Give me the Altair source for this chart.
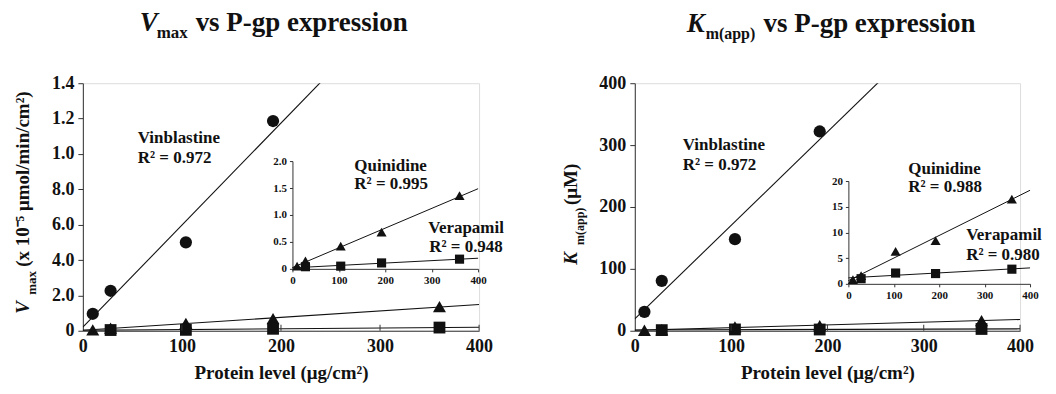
import altair as alt
import pandas as pd

# ---------------- data ----------------
protein = [10, 28, 104, 192, 360]          # µg/cm2
protein_vin = [10, 28, 104, 192]
protein_ver = [28, 104, 192, 360]

vmax_vinblastine = [0.96, 2.26, 5.0, 11.86]
vmax_quinidine = [0.05, 0.15, 0.42, 0.68, 1.36]
vmax_verapamil = [0.04, 0.05, 0.11, 0.18]

km_vinblastine = [30.6, 80.6, 148.0, 322.0]
km_quinidine = [0.8, 1.6, 6.3, 8.4, 16.5]
km_verapamil = [1.0, 2.1, 2.0, 2.85]

x_ticks = [0, 100, 200, 300, 400]
x_inner_ticks = [100, 200, 300, 400]
vmax_ticks = [0, 2, 4, 6, 8, 10, 12, 14]
vmax_inset_ticks = [0, 0.5, 1.0, 1.5, 2.0]
km_ticks = [0, 100, 200, 300, 400]
km_inset_ticks = [0, 5, 10, 15, 20]

compounds = ["Vinblastine", "Quinidine", "Verapamil"]
r2_vmax = ["R² = 0.972", "R² = 0.995", "R² = 0.948"]
r2_km = ["R² = 0.972", "R² = 0.988", "R² = 0.980"]

SERIF = "Liberation Serif, Times New Roman, serif"
INK = "#111111"
AX = "#333333"
H = 248


def make_df(vin, qui, ver):
    rows = []
    for x, y in zip(protein_vin, vin):
        rows.append({"protein": x, "value": y, "compound": "Vinblastine"})
    for x, y in zip(protein, qui):
        rows.append({"protein": x, "value": y, "compound": "Quinidine"})
    for x, y in zip(protein_ver, ver):
        rows.append({"protein": x, "value": y, "compound": "Verapamil"})
    return pd.DataFrame(rows)


def txt(s, x, y, size=17, style="normal", angle=None):
    kw = dict(align="left", baseline="alphabetic", font=SERIF, fontSize=size,
              fontWeight="bold", fontStyle=style, color=INK)
    if angle is not None:
        kw["angle"] = angle
    return alt.Chart(pd.DataFrame({"t": [s]})).mark_text(**kw).encode(
        x=alt.value(x), y=alt.value(y), text="t:N")


SHAPES = {"Vinblastine": ("circle", 150), "Quinidine": ("triangle-up", 170),
          "Verapamil": ("square", 140)}


def panel(df, W, ymax, yticks, ylab_expr, iymax, iticks, ilab_expr,
          ixr, iyr, texts):
    # ---- main plot ----
    xm = alt.X("protein:Q", scale=alt.Scale(domain=[0, 400], nice=False),
               axis=alt.Axis(values=x_ticks, title="Protein level (μg/cm²)",
                             titleFont=SERIF, titleFontSize=19, titleFontWeight="bold",
                             titleColor=INK, labelFont=SERIF, labelFontSize=18,
                             labelFontWeight="bold", labelColor=INK, ticks=False,
                             labelPadding=7, titlePadding=8, domainColor=AX,
                             grid=False, labelFlush=False))
    ym = alt.Y("value:Q", scale=alt.Scale(domain=[0, ymax], nice=False),
               axis=alt.Axis(values=yticks, labelExpr=ylab_expr, title=None,
                             labelFont=SERIF, labelFontSize=18, labelFontWeight="bold",
                             labelColor=INK, tickSize=5, tickColor=AX, domainColor=AX,
                             labelPadding=4, grid=False))
    base = alt.Chart(df)
    main_layers = []
    for c in compounds:
        main_layers.append(
            base.transform_filter(alt.datum.compound == c)
            .transform_regression("protein", "value", extent=[0, 400])
            .mark_line(color=INK, strokeWidth=1.1, clip=True)
            .encode(x=xm, y=ym))
    for c in ["Vinblastine", "Quinidine", "Verapamil"]:
        shp, sz = SHAPES[c]
        main_layers.append(
            base.transform_filter(alt.datum.compound == c)
            .mark_point(shape=shp, size=sz, filled=True, color=INK, opacity=1)
            .encode(x=xm, y=ym))
    ticks_df = pd.DataFrame({"protein": x_inner_ticks})
    main_layers.append(
        alt.Chart(ticks_df).mark_rule(color=AX, strokeWidth=1)
        .encode(x=xm, y=alt.value(H - 6), y2=alt.value(H)))
    main = alt.layer(*main_layers)

    # ---- inset ----
    xi = alt.X("protein:Q", scale=alt.Scale(domain=[0, 400], range=ixr, nice=False),
               axis=alt.Axis(values=x_ticks, orient="bottom", offset=-(H - iyr[0]),
                             title=None, labelFont=SERIF, labelFontSize=11,
                             labelFontWeight="bold", labelColor=INK, tickSize=3,
                             tickColor=AX, domainColor=AX, labelPadding=3,
                             grid=False, labelFlush=False))
    yi = alt.Y("value:Q", scale=alt.Scale(domain=[0, iymax], range=iyr, nice=False),
               axis=alt.Axis(values=iticks, labelExpr=ilab_expr, orient="left",
                             offset=-ixr[0], title=None, labelFont=SERIF,
                             labelFontSize=11, labelFontWeight="bold", labelColor=INK,
                             tickSize=3, tickColor=AX, domainColor=AX, labelPadding=3,
                             grid=False))
    ins_layers = []
    for c in ["Quinidine", "Verapamil"]:
        ins_layers.append(
            base.transform_filter(alt.datum.compound == c)
            .transform_regression("protein", "value", extent=[0, 400])
            .mark_line(color=INK, strokeWidth=1.0)
            .encode(x=xi, y=yi))
    for c in ["Quinidine", "Verapamil"]:
        shp, sz = SHAPES[c]
        ins_layers.append(
            base.transform_filter(alt.datum.compound == c)
            .mark_point(shape=shp, size=sz * 0.6, filled=True, color=INK, opacity=1)
            .encode(x=xi, y=yi))
    inset = alt.layer(*ins_layers)

    return alt.layer(main, inset, *texts).resolve_scale(
        x="independent", y="independent").properties(width=W, height=H)


# ---------------- left panel: Vmax ----------------
vmax_df = make_df(vmax_vinblastine, vmax_quinidine, vmax_verapamil)
left_texts = [
    txt("V", 57, -52, size=27, style="italic"),
    txt("max", 74, -45, size=17),
    txt("vs P-gp expression", 113, -52, size=27),
    txt("V", -54, 231, size=19, style="italic", angle=270),
    txt("max", -47, 212, size=13, angle=270),
    txt("(x 10⁻⁵ μmol/min/cm²)", -54, 184, size=19, angle=270),
    txt(compounds[0], 55, 60), txt(r2_vmax[0], 55, 80),
    txt(compounds[1], 272, 88), txt(r2_vmax[1], 272, 106),
    txt(compounds[2], 346, 150), txt(r2_vmax[2], 347, 169),
]
left = panel(
    vmax_df, 397, 14, vmax_ticks,
    "datum.value == 0 ? '0' : (datum.value >= 10 ? format(datum.value / 10, '.1f') : format(datum.value, '.1f'))",
    2.0, vmax_inset_ticks,
    "datum.value == 0 ? '0' : format(datum.value, '.1f')",
    [210, 396], [186, 78], left_texts)

# ---------------- right panel: Km(app) ----------------
km_df = make_df(km_vinblastine, km_quinidine, km_verapamil)
right_texts = [
    txt("K", 52, -51, size=27, style="italic"),
    txt("m(app)", 71, -44, size=16),
    txt("vs P-gp expression", 129, -51, size=27),
    txt("K", -58, 182, size=19, style="italic", angle=270),
    txt("m(app)", -51, 162, size=12, angle=270),
    txt("(μM)", -58, 122, size=19, angle=270),
    txt(compounds[0], 48, 67), txt(r2_km[0], 48, 87),
    txt(compounds[1], 274, 91), txt(r2_km[1], 274, 109),
    txt(compounds[2], 332, 157), txt(r2_km[2], 332, 177),
]
right = panel(
    km_df, 386, 400, km_ticks, "format(datum.value, 'd')",
    20, km_inset_ticks, "format(datum.value, 'd')",
    [214, 396], [201, 98], right_texts)

chart = alt.hconcat(left, right, spacing=56).configure_view(stroke=None).configure(
    background="white").properties(padding={"left": 5, "top": 0, "right": 5, "bottom": 0})

chart.save("out.html", embed_options={"renderer": "svg", "actions": False})
